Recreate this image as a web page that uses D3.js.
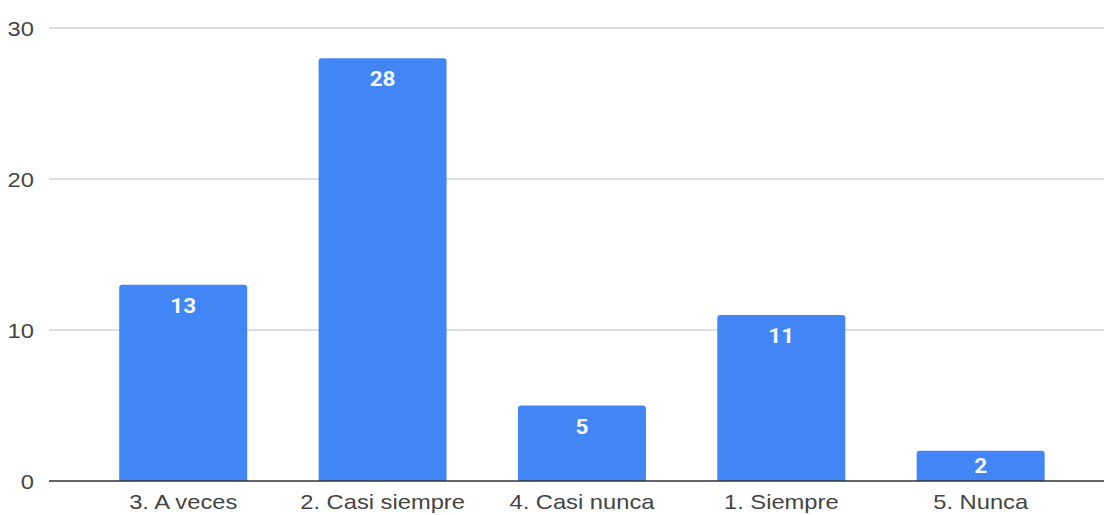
<!DOCTYPE html>
<html>
<head>
<meta charset="utf-8">
<script src="https://cdn.jsdelivr.net/npm/d3@7"></script>
<style>
  html, body { margin: 0; padding: 0; background: #fff; }
  svg { display: block; }
</style>
</head>
<body>
<svg id="chart" width="1104" height="515"></svg>
<script>
const categories = ["3. A veces", "2. Casi siempre", "4. Casi nunca", "1. Siempre", "5. Nunca"];
const values = [13, 28, 5, 11, 2];
const yTicks = [0, 10, 20, 30];

(function () {
const svg = d3.select("#chart");
const plotLeft = 49, plotRight = 1104, plotTop = 28, plotBottom = 481;
const sx = 1.13; // horizontal stretch seen in the reference text

const x = d3.scaleBand()
  .domain(categories)
  .range([plotLeft, plotRight])
  .paddingInner(0.358)
  .paddingOuter(0.325)
  .align(0.542);

const y = d3.scaleLinear().domain([0, 30]).range([plotBottom, plotTop]);

// gridlines
svg.append("g").selectAll("line")
  .data(yTicks.filter(d => d !== 0))
  .join("line")
  .attr("x1", plotLeft).attr("x2", plotRight)
  .attr("y1", d => y(d)).attr("y2", d => y(d))
  .attr("stroke", "#d4d4d4")
  .attr("stroke-width", 1.6);

// y tick labels
svg.append("g").selectAll("text")
  .data(yTicks)
  .join("text")
  .attr("transform", d => `translate(34,${y(d)}) scale(${sx},1)`)
  .attr("dy", "0.36em")
  .attr("text-anchor", "end")
  .attr("fill", "#444")
  .style("font-family", "'Liberation Sans', Arial, sans-serif")
  .style("font-size", "21px")
  .text(d => d);

// bars with rounded top corners
const r = 3;
const rows = categories.map((c, i) => ({c, v: values[i]}));
svg.append("g").selectAll("path")
  .data(rows)
  .join("path")
  .attr("fill", "#4285F4")
  .attr("d", d => {
    const x0 = x(d.c), x1 = x0 + x.bandwidth();
    const y0 = y(d.v), y1 = y(0);
    return `M${x0},${y1} L${x0},${y0 + r} Q${x0},${y0} ${x0 + r},${y0} L${x1 - r},${y0} Q${x1},${y0} ${x1},${y0 + r} L${x1},${y1} Z`;
  });

// baseline
svg.append("line")
  .attr("x1", plotLeft).attr("x2", plotRight)
  .attr("y1", y(0)).attr("y2", y(0))
  .attr("stroke", "#333")
  .attr("stroke-width", 1.5);

// value labels
svg.append("g").selectAll("text")
  .data(rows)
  .join("text")
  .attr("transform", d => {
    const cx = x(d.c) + x.bandwidth() / 2;
    const yb = Math.min(y(d.v) + 28, (y(d.v) + y(0)) / 2 + 7);
    return `translate(${cx},${yb}) scale(${sx},1)`;
  })
  .attr("text-anchor", "middle")
  .attr("fill", "#f4f8ff")
  .style("font-family", "Roboto, 'Liberation Sans', Arial, sans-serif")
  .style("font-weight", "bold")
  .style("font-size", "20px")
  .text(d => d.v);

// category labels
svg.append("g").selectAll("text")
  .data(categories)
  .join("text")
  .attr("transform", d => `translate(${x(d) + x.bandwidth() / 2},508.5) scale(${sx},1)`)
  .attr("text-anchor", "middle")
  .attr("fill", "#444")
  .style("font-family", "'Liberation Sans', Arial, sans-serif")
  .style("font-size", "21px")
  .text(d => d);
})();
</script>
</body>
</html>
